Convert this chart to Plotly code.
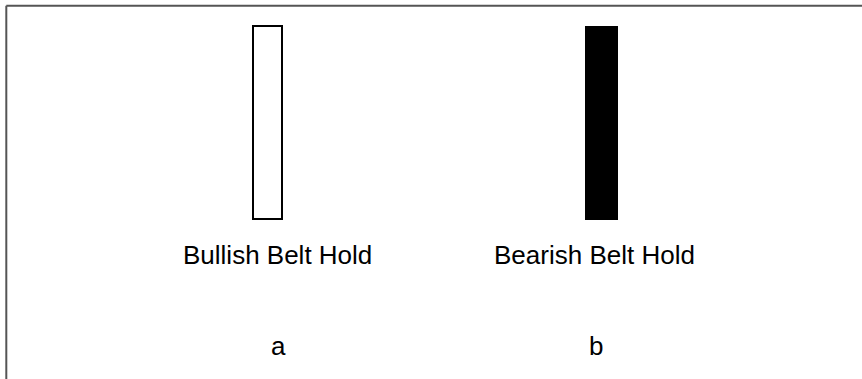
import plotly.graph_objects as go

# candle bodies, in the chart's own vertical units (0 = bottom of the panel)
candle_x = [267.5, 601.5]
candle_open = [160, 352]
candle_close = [353, 160]
candle_width = [28.5, 31]
candle_fill = ["white", "black"]

pattern_names = ["Bullish Belt Hold", "Bearish Belt Hold"]
name_x = [277, 594]
name_y = 124

panel_letters = ["a", "b"]
letter_x = [278, 595.5]
letter_y = 33

W, H = 862, 379

fig = go.Figure()

fig.add_trace(
    go.Bar(
        x=candle_x,
        base=[min(o, c) for o, c in zip(candle_open, candle_close)],
        y=[abs(c - o) for o, c in zip(candle_open, candle_close)],
        width=candle_width,
        marker=dict(color=candle_fill, line=dict(color="black", width=2)),
        showlegend=False,
        hoverinfo="skip",
    )
)

for name, x in zip(pattern_names, name_x):
    fig.add_annotation(x=x, y=name_y, text=name, showarrow=False,
                       font=dict(family="Liberation Sans, Arial", size=26, color="black"))

for letter, x in zip(panel_letters, letter_x):
    fig.add_annotation(x=x, y=letter_y, text=letter, showarrow=False,
                       font=dict(family="Liberation Sans, Arial", size=26, color="black"))

# frame: top and left edges only
fig.add_shape(type="line", xref="paper", yref="paper", x0=6.3 / W, x1=1, y0=1 - 5.8 / H, y1=1 - 5.8 / H,
              line=dict(color="#555555", width=2))
fig.add_shape(type="line", xref="paper", yref="paper", x0=6.3 / W, x1=6.3 / W, y0=0, y1=1 - 5.8 / H,
              line=dict(color="#555555", width=2))

fig.update_layout(
    width=W,
    height=H,
    margin=dict(l=0, r=0, t=0, b=0),
    paper_bgcolor="white",
    plot_bgcolor="white",
    xaxis=dict(range=[0, W], visible=False, fixedrange=True),
    yaxis=dict(range=[0, H], visible=False, fixedrange=True),
    bargap=0,
)

fig.write_html(
    "out.html",
    config={"displayModeBar": False},
    post_script="document.body.style.margin='0';",
)
